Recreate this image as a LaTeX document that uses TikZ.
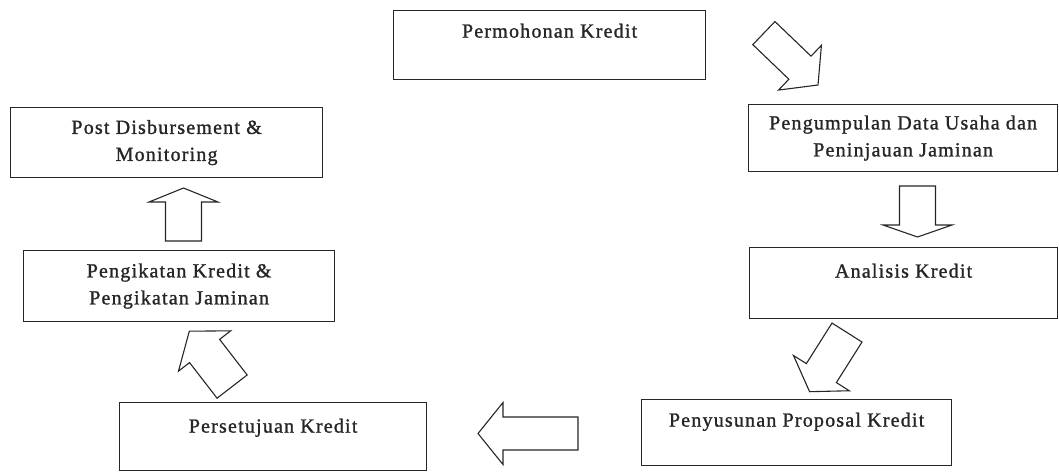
\documentclass[tikz,border=0pt]{standalone}
\usepackage{fontspec}
\setmainfont{Liberation Serif}
\newfontfamily\boxfont[LetterSpace=6,FakeBold=1.2]{Liberation Serif}
\usetikzlibrary{calc}
\definecolor{ink}{HTML}{262626}
\tikzset{
  stepbox/.style={draw=ink, line width=1.2pt, rectangle, anchor=north west,
    inner xsep=0pt, inner ysep=0pt, align=center, text=ink,
    font={\boxfont\fontsize{20}{27}\selectfont}},
  arrowline/.style={draw=ink, line width=1.1pt, line join=miter},
  % hollow block arrow: tip at the origin, pointing along +x
  % #1 total length, #2 head length, #3 shaft half width, #4 head half width
  pics/blockarrow/.style n args={4}{code={
    \draw[arrowline] (0,0) -- (-#2,#4) -- (-#2,#3) -- (-#1,#3) -- (-#1,-#3)
      -- (-#2,-#3) -- (-#2,-#4) -- cycle;}}
}
\begin{document}
\begin{tikzpicture}[x=1pt,y=1pt]
\useasboundingbox (0,0) rectangle (1059,-471);

% process steps
\node[stepbox, minimum width=312pt, text height=27pt, text depth=42pt]
  (permohonan) at (393,-10) {Permohonan Kredit};
\node[stepbox, minimum width=309pt, minimum height=67pt]
  (pengumpulan) at (748,-104) {Pengumpulan Data Usaha dan\\Peninjauan Jaminan};
\node[stepbox, minimum width=308pt, text height=30pt, text depth=41pt]
  (analisis) at (749,-247) {Analisis Kredit};
\node[stepbox, minimum width=310pt, text height=27pt, text depth=39pt]
  (penyusunan) at (641,-399) {Penyusunan Proposal Kredit};
\node[stepbox, minimum width=307pt, text height=30pt, text depth=38pt]
  (persetujuan) at (119,-402) {Persetujuan Kredit};
\node[stepbox, minimum width=311pt, minimum height=71pt]
  (pengikatan) at (23,-250) {Pengikatan Kredit \&\\Pengikatan Jaminan};
\node[stepbox, minimum width=312pt, minimum height=70pt]
  (post) at (10,-107) {Post Disbursement \&\\Monitoring};

% flow arrows between the steps
\pic[rotate=-43.8] at (818,-85) {blockarrow={75}{25}{16}{31}};
\pic[rotate=-90] at (917.5,-237) {blockarrow={51}{12}{18}{34.5}};
\pic[rotate=-122.3] at (809.6,-391.7) {blockarrow={70}{22}{17.75}{33}};
\pic[rotate=180] at (478,-433.5) {blockarrow={100}{25}{16.5}{31}};
\pic[rotate=127.7] at (189.3,-331.2) {blockarrow={70}{25}{19}{33}};
\pic[rotate=90] at (183.5,-188) {blockarrow={53}{14}{18}{34.5}};
\end{tikzpicture}
\end{document}
